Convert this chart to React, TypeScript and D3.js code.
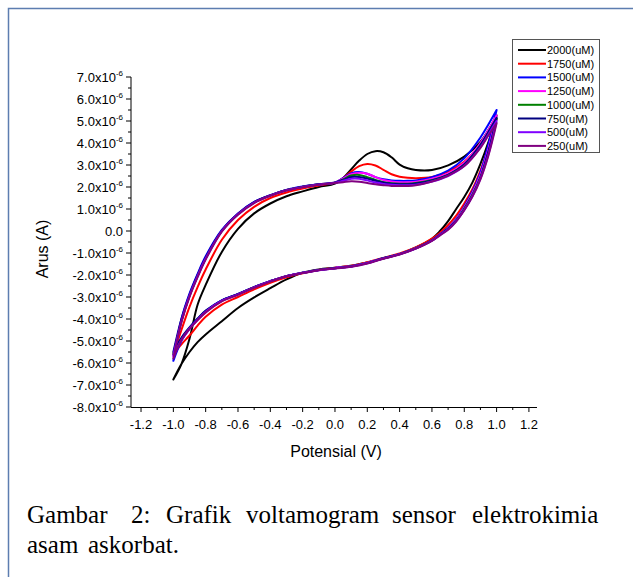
import React from "react";
import * as d3 from "d3";

const WIDTH = 633;
const HEIGHT = 577;

// potential grid (V) for the forward (anodic) and reverse sweeps
const POT_FWD = [-1.0, -0.95, -0.9, -0.85, -0.8, -0.7, -0.6, -0.5, -0.4, -0.3, -0.2, -0.1, 0.0, 0.05, 0.1, 0.15, 0.2, 0.25, 0.3, 0.35, 0.4, 0.45, 0.5, 0.6, 0.7, 0.8, 0.9, 0.95, 1.0];
const POT_REV = [1.0, 0.95, 0.9, 0.85, 0.8, 0.75, 0.7, 0.65, 0.6, 0.5, 0.4, 0.3, 0.2, 0.1, 0.0, -0.1, -0.2, -0.3, -0.4, -0.5, -0.6, -0.7, -0.8, -0.85, -0.9, -0.95, -1.0];

// currents in uA (x10^-6 A)
const I2000_FWD = [-6.75, -6.05, -4.9, -3.35, -2.45, -0.95, 0.1, 0.8, 1.25, 1.58, 1.8, 2.0, 2.15, 2.4, 2.8, 3.2, 3.5, 3.63, 3.58, 3.35, 3.02, 2.85, 2.77, 2.77, 2.98, 3.38, 4.05, 4.6, 5.25];
const I2000_REV = [5.25, 4.05, 3.05, 2.2, 1.55, 1.0, 0.45, 0.0, -0.35, -0.75, -1.05, -1.25, -1.43, -1.58, -1.67, -1.75, -1.9, -2.2, -2.6, -3.02, -3.5, -4.1, -4.7, -5.05, -5.5, -6.05, -6.75];
const I1750_FWD = [-5.6, -4.5, -3.45, -2.55, -1.75, -0.4, 0.5, 1.1, 1.5, 1.75, 1.93, 2.07, 2.2, 2.4, 2.7, 2.95, 3.05, 2.98, 2.78, 2.58, 2.47, 2.42, 2.4, 2.45, 2.7, 3.15, 3.95, 4.5, 5.1];
const I1750_REV = [5.1, 3.8, 2.75, 1.9, 1.25, 0.7, 0.27, -0.08, -0.35, -0.75, -1.02, -1.22, -1.42, -1.58, -1.67, -1.77, -1.92, -2.1, -2.35, -2.65, -3.0, -3.35, -3.9, -4.3, -4.75, -5.15, -5.6];
const I1500_FWD = [-5.9, -4.0, -2.85, -1.95, -1.15, 0.05, 0.8, 1.32, 1.63, 1.87, 2.02, 2.12, 2.2, 2.4, 2.62, 2.68, 2.6, 2.45, 2.35, 2.3, 2.28, 2.28, 2.3, 2.45, 2.75, 3.3, 4.25, 4.85, 5.5];
const I1500_REV = [5.5, 3.95, 2.65, 1.8, 1.12, 0.55, 0.15, -0.15, -0.42, -0.78, -1.05, -1.23, -1.45, -1.6, -1.68, -1.77, -1.9, -2.05, -2.28, -2.55, -2.87, -3.15, -3.65, -4.0, -4.45, -5.0, -5.9];
const I1250_FWD = [-5.7, -4.1, -2.95, -2.05, -1.25, 0.0, 0.78, 1.3, 1.62, 1.86, 2.01, 2.12, 2.2, 2.38, 2.58, 2.65, 2.6, 2.45, 2.32, 2.25, 2.22, 2.22, 2.24, 2.38, 2.62, 3.1, 4.0, 4.6, 5.25];
const I1250_REV = [5.25, 3.75, 2.55, 1.72, 1.07, 0.52, 0.13, -0.15, -0.42, -0.78, -1.05, -1.24, -1.45, -1.6, -1.68, -1.77, -1.9, -2.05, -2.28, -2.55, -2.88, -3.18, -3.7, -4.05, -4.45, -4.95, -5.7];
const I1000_FWD = [-5.6, -4.1, -2.95, -2.05, -1.25, 0.0, 0.77, 1.3, 1.62, 1.86, 2.01, 2.12, 2.2, 2.35, 2.52, 2.55, 2.45, 2.32, 2.22, 2.17, 2.15, 2.15, 2.18, 2.32, 2.55, 3.02, 3.9, 4.5, 5.1];
const I1000_REV = [5.1, 3.6, 2.45, 1.65, 1.02, 0.48, 0.1, -0.16, -0.43, -0.79, -1.05, -1.24, -1.46, -1.61, -1.69, -1.77, -1.9, -2.05, -2.28, -2.55, -2.87, -3.16, -3.67, -4.02, -4.42, -4.9, -5.6];
const I750_FWD = [-5.5, -4.0, -2.9, -2.0, -1.2, 0.02, 0.78, 1.31, 1.62, 1.86, 2.01, 2.12, 2.2, 2.32, 2.45, 2.45, 2.38, 2.28, 2.2, 2.15, 2.13, 2.13, 2.16, 2.3, 2.55, 3.02, 3.9, 4.5, 5.15];
const I750_REV = [5.15, 3.62, 2.42, 1.6, 0.98, 0.47, 0.1, -0.16, -0.43, -0.79, -1.05, -1.24, -1.46, -1.61, -1.69, -1.77, -1.9, -2.05, -2.28, -2.55, -2.86, -3.15, -3.62, -3.98, -4.38, -4.85, -5.5];
const I500_FWD = [-5.65, -4.1, -2.95, -2.05, -1.25, 0.0, 0.76, 1.29, 1.61, 1.85, 2.0, 2.11, 2.19, 2.28, 2.38, 2.38, 2.3, 2.2, 2.14, 2.1, 2.08, 2.08, 2.1, 2.25, 2.5, 2.95, 3.8, 4.4, 5.0];
const I500_REV = [5.0, 3.5, 2.38, 1.58, 0.96, 0.45, 0.08, -0.18, -0.44, -0.8, -1.06, -1.25, -1.47, -1.62, -1.7, -1.78, -1.9, -2.05, -2.28, -2.56, -2.88, -3.17, -3.67, -4.03, -4.43, -4.95, -5.65];
const I250_FWD = [-5.8, -4.15, -3.0, -2.1, -1.3, -0.03, 0.74, 1.27, 1.6, 1.84, 1.99, 2.1, 2.18, 2.22, 2.26, 2.24, 2.18, 2.12, 2.08, 2.05, 2.05, 2.05, 2.08, 2.25, 2.52, 2.95, 3.78, 4.35, 4.9];
const I250_REV = [4.9, 3.45, 2.35, 1.55, 0.94, 0.43, 0.06, -0.2, -0.45, -0.8, -1.07, -1.26, -1.48, -1.63, -1.7, -1.78, -1.91, -2.06, -2.3, -2.58, -2.9, -3.2, -3.7, -4.05, -4.45, -4.95, -5.8];

const LABELS = ["2000(uM)", "1750(uM)", "1500(uM)", "1250(uM)", "1000(uM)", "750(uM)", "500(uM)", "250(uM)"];
const COLORS = ["#000000", "#ff0000", "#0000ff", "#ff00ff", "#008000", "#000080", "#8000ff", "#800080"];
const FWD = [I2000_FWD, I1750_FWD, I1500_FWD, I1250_FWD, I1000_FWD, I750_FWD, I500_FWD, I250_FWD];
const REV = [I2000_REV, I1750_REV, I1500_REV, I1250_REV, I1000_REV, I750_REV, I500_REV, I250_REV];

const X_TICKS = [-1.2, -1.0, -0.8, -0.6, -0.4, -0.2, 0.0, 0.2, 0.4, 0.6, 0.8, 1.0, 1.2];
const Y_TICKS = [7, 6, 5, 4, 3, 2, 1, 0, -1, -2, -3, -4, -5, -6, -7, -8];

const CAPTION_1 = ["Gambar", "2:", "Grafik", "voltamogram", "sensor", "elektrokimia"];
const CAPTION_2 = ["asam", "askorbat."];

const FONT = "'Liberation Sans', Arial, sans-serif";

export default function App() {
  const x = d3.scaleLinear().domain([-1.262, 1.25]).range([131, 537]);
  const y = d3.scaleLinear().domain([-8, 7]).range([407, 77]);

  const line = d3
    .line<[number, number]>()
    .x((d) => x(d[0]))
    .y((d) => y(d[1]))
    .curve(d3.curveCatmullRom.alpha(0.5));

  const xMinor = X_TICKS.slice(1).map((t) => +(t - 0.1).toFixed(2));
  const yMinor = Y_TICKS.slice(1).map((t) => t + 0.5);

  // justified caption: left edge of every word
  const cap1X = [27, 131, 166, 246, 392, 472];
  const cap2X = [27, 88];

  return (
    <svg
      width={WIDTH}
      height={HEIGHT}
      style={{ position: "absolute", left: 0, top: 0, background: "#fff" }}
    >
      <path d="M8.5,577V8.5H633" fill="none" stroke="#5d7db0" strokeWidth={1.5} />

      {/* curves */}
      <g fill="none" strokeLinejoin="round" strokeLinecap="round">
        {FWD.map((f, i) => {
          const fw = POT_FWD.map((p, k) => [p, f[k]] as [number, number]);
          const rv = POT_REV.map((p, k) => [p, REV[i][k]] as [number, number]);
          return (
            <path
              key={LABELS[i]}
              d={(line(fw) || "") + (line(rv) || "")}
              stroke={COLORS[i]}
              strokeWidth={2}
            />
          );
        })}
      </g>

      {/* axes */}
      <g stroke="#000" strokeWidth={1}>
        <line x1={131} x2={131} y1={y(7)} y2={y(-8)} />
        <line x1={131} x2={537} y1={407.5} y2={407.5} />
        {Y_TICKS.map((t) => (
          <line key={"yt" + t} x1={126} x2={131} y1={y(t)} y2={y(t)} />
        ))}
        {yMinor.map((t) => (
          <line key={"ym" + t} x1={128} x2={131} y1={y(t)} y2={y(t)} />
        ))}
        {X_TICKS.map((t) => (
          <line key={"xt" + t} x1={x(t)} x2={x(t)} y1={407} y2={412} />
        ))}
        {xMinor.map((t) => (
          <line key={"xm" + t} x1={x(t)} x2={x(t)} y1={407} y2={410} />
        ))}
      </g>

      <g fontFamily={FONT} fontSize={13} fill="#000">
        {Y_TICKS.map((t) => (
          <text key={"yl" + t} x={123} y={y(t) + 4.5} textAnchor="end">
            {t === 0 ? (
              "0.0"
            ) : (
              <>
                <tspan>{t.toFixed(1)}x10</tspan>
                <tspan fontSize={8} dy={-6}>-6</tspan>
              </>
            )}
          </text>
        ))}
        {X_TICKS.map((t) => (
          <text key={"xl" + t} x={x(t)} y={429} textAnchor="middle">
            {t.toFixed(1)}
          </text>
        ))}
      </g>

      <text x={336} y={457} textAnchor="middle" fontFamily={FONT} fontSize={16}>
        Potensial (V)
      </text>
      <text
        transform="translate(48,249) rotate(-90)"
        textAnchor="middle"
        fontFamily={FONT}
        fontSize={16}
      >
        Arus (A)
      </text>

      {/* legend */}
      <rect x={512.5} y={39.5} width={87} height={113} fill="#fff" stroke="#555" />
      {LABELS.map((l, i) => {
        const ly = 50 + i * 13.7;
        return (
          <g key={"lg" + l}>
            <line x1={518} x2={546} y1={ly} y2={ly} stroke={COLORS[i]} strokeWidth={2} />
            <text x={547} y={ly + 4} fontFamily={FONT} fontSize={11}>
              {l}
            </text>
          </g>
        );
      })}

      {/* caption */}
      <g fontFamily="'Liberation Serif', serif" fontSize={25} fill="#000">
        {CAPTION_1.map((w, i) => (
          <text key={"c1" + w} x={cap1X[i]} y={523}>
            {w}
          </text>
        ))}
        {CAPTION_2.map((w, i) => (
          <text key={"c2" + w} x={cap2X[i]} y={553}>
            {w}
          </text>
        ))}
      </g>
    </svg>
  );
}
